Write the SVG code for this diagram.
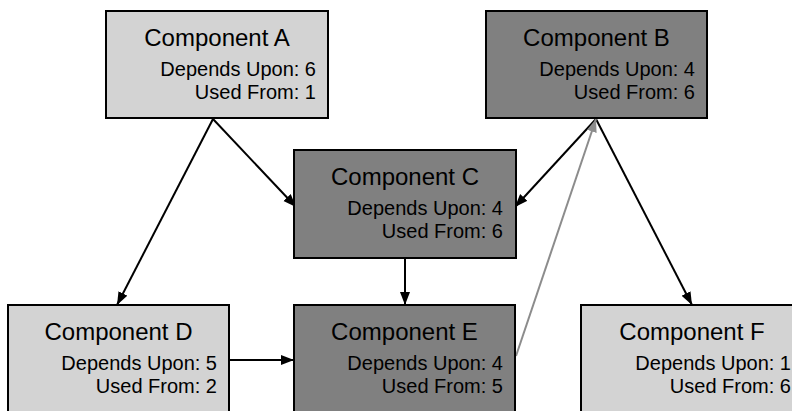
<svg xmlns="http://www.w3.org/2000/svg" width="792" height="411" viewBox="0 0 792 411">
<style>
.light{fill:#d3d3d3;stroke:#000;stroke-width:2}
.dark{fill:#808080;stroke:#000;stroke-width:2}
.t{font-family:"Liberation Sans",Arial,sans-serif;font-size:24px;fill:#000;text-anchor:middle}
.s{font-family:"Liberation Sans",Arial,sans-serif;font-size:20px;fill:#000;text-anchor:end}
.e{stroke:#000;stroke-width:2;fill:none}
.g{stroke:#8c8c8c;stroke-width:2;fill:none}
</style>
<defs>
<marker id="ah" markerUnits="userSpaceOnUse" markerWidth="14" markerHeight="11" refX="13" refY="5" orient="auto"><path d="M0,0 L13,5 L0,10 z" fill="#000"/></marker>
<marker id="ahg" markerUnits="userSpaceOnUse" markerWidth="14" markerHeight="11" refX="13" refY="5" orient="auto"><path d="M0,0 L13,5 L0,10 z" fill="#8c8c8c"/></marker>
</defs>
<rect width="792" height="411" fill="#fff"/>
<g id="edges">
<line class="e" x1="213" y1="119" x2="296" y2="207" marker-end="url(#ah)"/>
<line class="e" x1="213" y1="119" x2="117" y2="305" marker-end="url(#ah)"/>
<line class="e" x1="596" y1="119" x2="515" y2="207" marker-end="url(#ah)"/>
<line class="e" x1="596" y1="119" x2="692" y2="305" marker-end="url(#ah)"/>
<line class="e" x1="405" y1="259" x2="405" y2="305" marker-end="url(#ah)"/>
<line class="e" x1="230" y1="360" x2="294" y2="360" marker-end="url(#ah)"/>
<line class="g" x1="516" y1="356" x2="596" y2="119" marker-end="url(#ahg)"/>
</g>
<g id="A"><rect class="light" x="106" y="11" width="222" height="107"/><text class="t" x="217" y="46">Component A</text><text class="s" x="316" y="76">Depends Upon: 6</text><text class="s" x="316" y="99">Used From: 1</text></g>
<g id="B"><rect class="dark" x="486" y="11" width="221" height="107"/><text class="t" x="596.5" y="46">Component B</text><text class="s" x="695" y="76">Depends Upon: 4</text><text class="s" x="695" y="99">Used From: 6</text></g>
<g id="C"><rect class="dark" x="294" y="150" width="222" height="108"/><text class="t" x="405" y="185">Component C</text><text class="s" x="503" y="215">Depends Upon: 4</text><text class="s" x="503" y="238">Used From: 6</text></g>
<g id="D"><rect class="light" x="8" y="305" width="221" height="108"/><text class="t" x="118.5" y="340">Component D</text><text class="s" x="217" y="370">Depends Upon: 5</text><text class="s" x="217" y="393">Used From: 2</text></g>
<g id="E"><rect class="dark" x="294" y="305" width="221" height="108"/><text class="t" x="404.5" y="340">Component E</text><text class="s" x="503" y="370">Depends Upon: 4</text><text class="s" x="503" y="393">Used From: 5</text></g>
<g id="F"><rect class="light" x="581" y="305" width="222" height="108"/><text class="t" x="692" y="340">Component F</text><text class="s" x="791" y="370">Depends Upon: 1</text><text class="s" x="791" y="393">Used From: 6</text></g>
</svg>
